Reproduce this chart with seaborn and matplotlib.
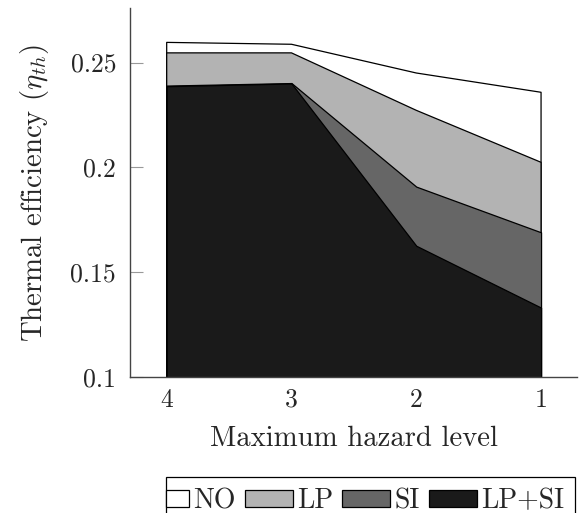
import numpy as np
import matplotlib
matplotlib.use("Agg")
import matplotlib.pyplot as plt
import seaborn as sns
from matplotlib.patches import Patch, Rectangle
from matplotlib.legend_handler import HandlerPatch

# data
levels = ["4", "3", "2", "1"]
no_vals = [0.2596, 0.2587, 0.2450, 0.2358]
lp_vals = [0.2546, 0.2546, 0.2272, 0.2024]
si_vals = [0.2390, 0.2402, 0.1908, 0.1690]
lpsi_vals = [0.2387, 0.2400, 0.1626, 0.1331]
series_names = ["NO", "LP", "SI", "LP+SI"]
series_colors = ["#ffffff", "#b3b3b3", "#666666", "#1a1a1a"]
ytick_vals = [0.1, 0.15, 0.2, 0.25]
ytick_labels = ["0.1", "0.15", "0.2", "0.25"]

sns.set_style("ticks")
plt.rcParams["font.family"] = ["cmr10", "DejaVu Serif"]
plt.rcParams["mathtext.fontset"] = "cm"
plt.rcParams["axes.formatter.use_mathtext"] = True

fig = plt.figure(figsize=(5.85, 5.13), dpi=100)
ax = fig.add_axes([130 / 585, 1 - 377 / 513, 447 / 585, 369 / 513])

x = np.arange(len(levels))
for vals, col in zip([no_vals, lp_vals, si_vals, lpsi_vals], series_colors):
    ax.fill_between(x, 0, vals, facecolor=col, edgecolor="black", linewidth=0.9)

ax.set_xlim(-0.294, 3.288)
ax.set_ylim(0.1, 0.276)
ax.set_xticks(x)
ax.set_xticklabels(levels)
ax.set_yticks(ytick_vals)
ax.set_yticklabels(ytick_labels)

tick_fs = 18.5
label_fs = 20.7
ax.tick_params(axis="y", direction="in", length=9, width=0.8, color="#999999",
               labelsize=tick_fs, pad=10)
ax.tick_params(axis="x", length=0, labelsize=tick_fs, pad=8)
sns.despine(ax=ax)
for s in ["left", "bottom"]:
    ax.spines[s].set_color("#444444")
    ax.spines[s].set_linewidth(1.0)

ax.set_xlabel("Maximum hazard level", fontsize=label_fs, labelpad=10)
ax.set_ylabel(r"Thermal efficiency ($\eta_{th}$)", fontsize=label_fs, labelpad=14)

# legend: first swatch is narrow (runs into the frame), the others are wide
leg_fs = 20
extra = 25.6  # points the wide swatches reach left of their slot
edge_pad = 0.4 * leg_fs  # points between frame and first slot


def wide_patch(legend, orig_handle, xdescent, ydescent, width, height, fontsize):
    return Rectangle((-xdescent - extra, -ydescent), width + extra, height)


def first_patch(legend, orig_handle, xdescent, ydescent, width, height, fontsize):
    return Rectangle((-xdescent - edge_pad, -ydescent), width + edge_pad, height)


handles = [Patch(facecolor=c, edgecolor="black", linewidth=0.9) for c in series_colors]
hmap = {h: HandlerPatch(patch_func=wide_patch) for h in handles[1:]}
hmap[handles[0]] = HandlerPatch(patch_func=first_patch)
leg = fig.legend(handles, series_names, loc="upper right", handler_map=hmap,
                 bbox_to_anchor=(575 / 585, 1 - 477 / 513), ncol=4, fontsize=leg_fs,
                 frameon=True, fancybox=False, handlelength=0.45, handleheight=0.6,
                 handletextpad=0.15, columnspacing=1.6, borderpad=0.4,
                 borderaxespad=0)
leg.get_frame().set_edgecolor("black")
leg.get_frame().set_linewidth(0.9)
leg.get_frame().set_alpha(1)

fig.savefig("out.png", dpi=100)
